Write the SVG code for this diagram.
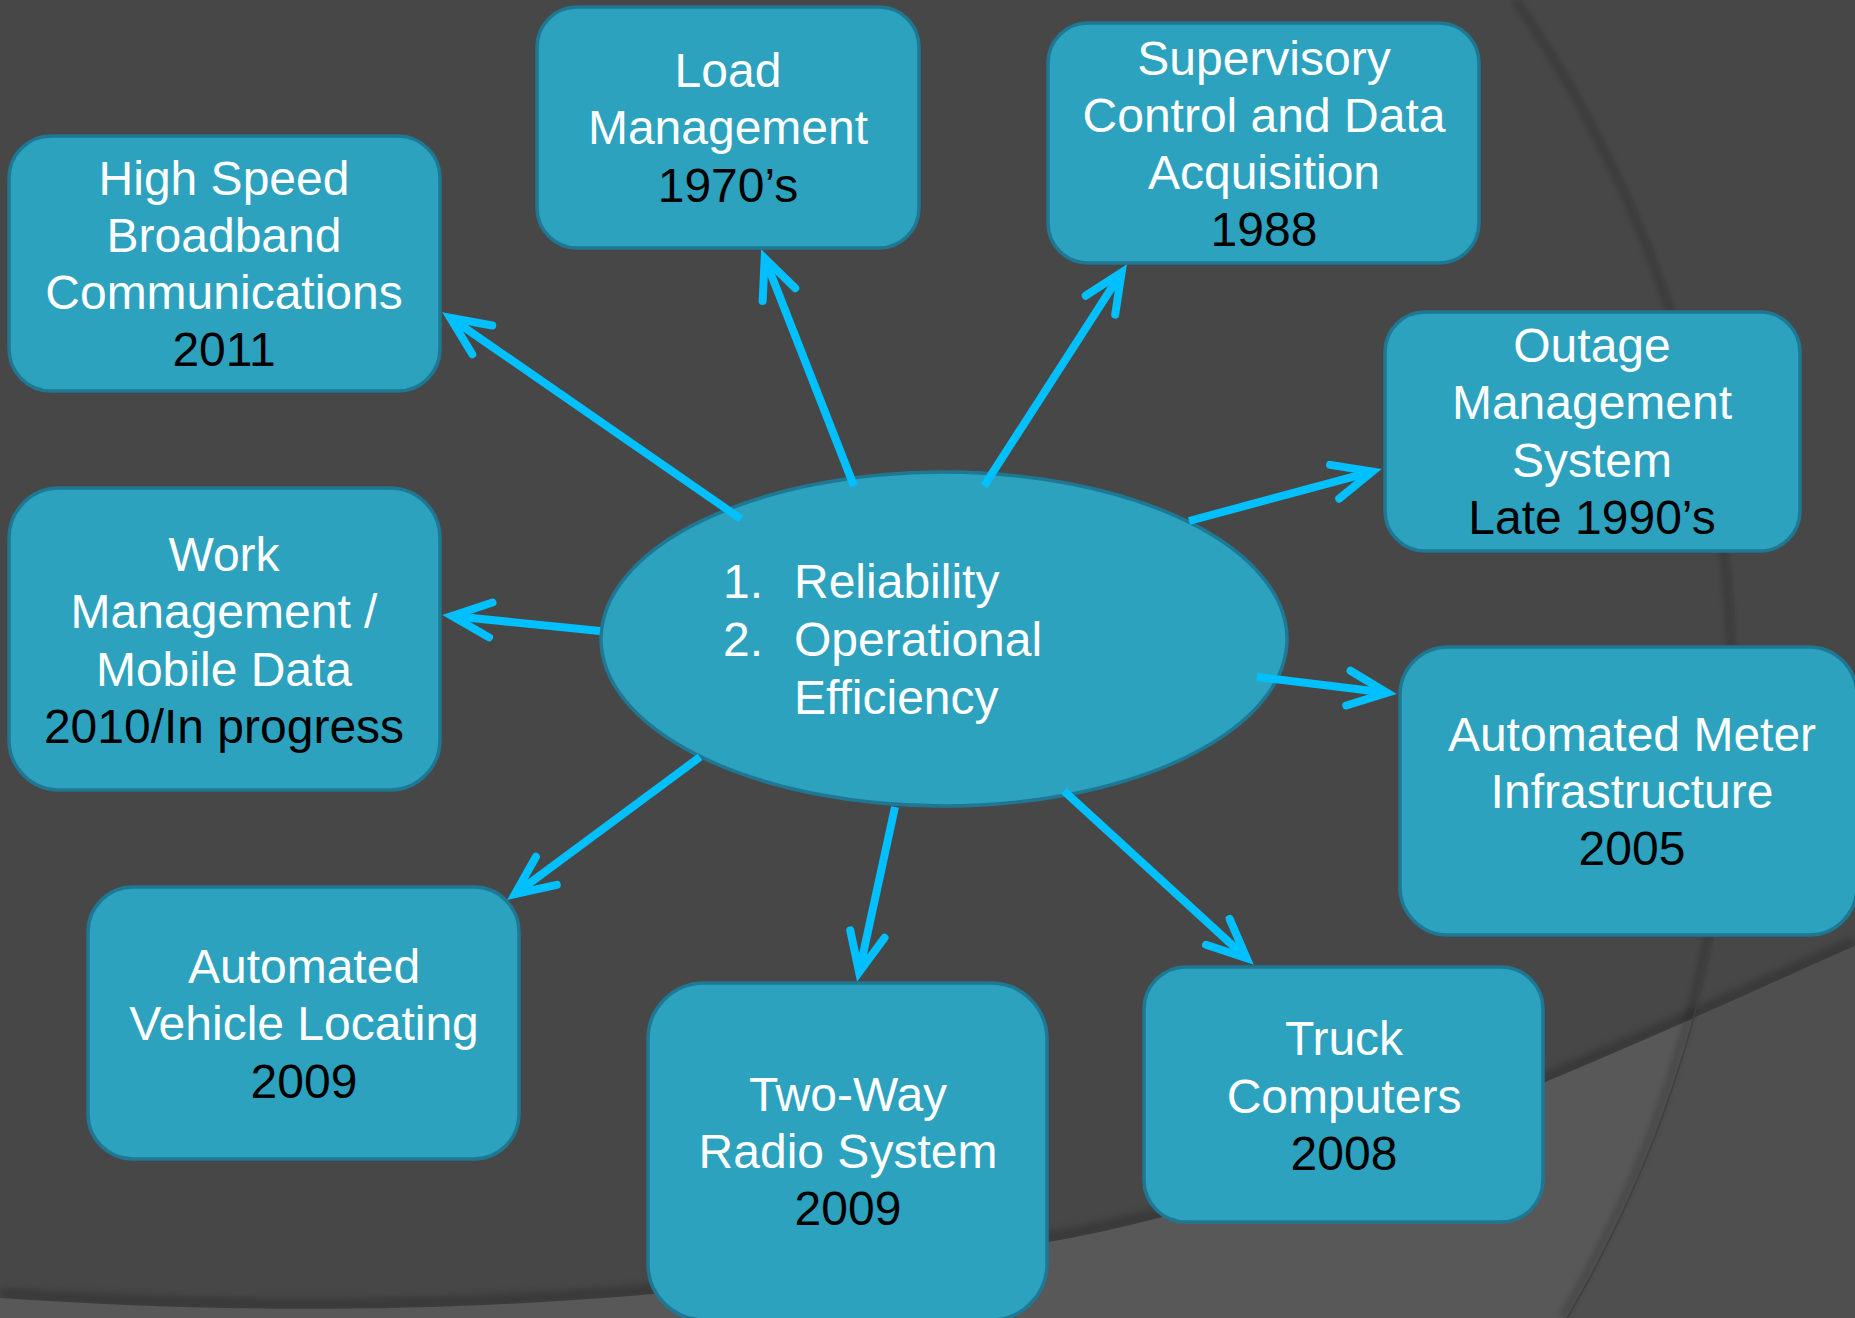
<svg xmlns="http://www.w3.org/2000/svg" width="1855" height="1318" viewBox="0 0 1855 1318">
  <defs>
    <style>
      .node { fill: #2ca2bf; stroke: #1f7893; stroke-width: 3.5; }
      .t { font-family: "Liberation Sans", Arial, sans-serif; font-size: 48px; text-anchor: middle; }
      .w { fill: #ffffff; }
      .k { fill: #000000; }
      .el { font-family: "Liberation Sans", Arial, sans-serif; font-size: 48px; fill: #ffffff; }
      .conn { stroke: #00c0ff; stroke-width: 8; fill: none; marker-end: url(#arrow); }
    </style>
    <marker id="arrow" markerUnits="userSpaceOnUse" viewBox="-50 -25 60 50" refX="0" refY="0" markerWidth="60" markerHeight="50" orient="auto" overflow="visible">
      <path d="M-39,-17.5 L0,0 L-39,17.5" fill="none" stroke="#00c0ff" stroke-width="8" stroke-linecap="round" stroke-linejoin="miter" stroke-miterlimit="10"/>
    </marker>
    <filter id="blur" filterUnits="userSpaceOnUse" x="0" y="0" width="1855" height="1318">
      <feGaussianBlur stdDeviation="5"/>
    </filter>
    <filter id="blur2" filterUnits="userSpaceOnUse" x="0" y="0" width="1855" height="1318">
      <feGaussianBlur stdDeviation="3"/>
    </filter>
    <clipPath id="lightClip">
      <path d="M0,1298 C300,1318 620,1316 1043,1243 C1300,1199 1600,1060 1855,946 L1855,1318 L0,1318 Z"/>
    </clipPath>
  </defs>

  <g id="background">
    <rect x="0" y="0" width="1855" height="1318" fill="#474747"/>
    <path d="M0,1298 C300,1318 620,1316 1043,1243 C1300,1199 1600,1060 1855,946" fill="none" stroke="#000" stroke-opacity="0.25" stroke-width="10" filter="url(#blur)" transform="translate(0,-4)"/>
    <path d="M0,1298 C300,1318 620,1316 1043,1243 C1300,1199 1600,1060 1855,946 L1855,1318 L0,1318 Z" fill="#585858"/>
    <path clip-path="url(#lightClip)" fill-rule="evenodd" fill="#4f4f4f" d="M0,0 H1855 V1318 H0 Z M512,696 m-1225,0 a1225,1225 0 1 0 2450,0 a1225,1225 0 1 0 -2450,0 Z"/>
    <path d="M1520,0 A1225,1225 0 0 1 1567,1318" fill="none" stroke="#000" stroke-opacity="0.18" stroke-width="8" filter="url(#blur2)" transform="translate(-5,0)"/>
    <path d="M1520,0 A1225,1225 0 0 1 1567,1318" fill="none" stroke="#404040" stroke-width="1.5"/>
  </g>

  <g id="center">
    <ellipse class="node" cx="944" cy="639" rx="343" ry="167"/>
    <text class="el" x="723" y="598">1.</text>
    <text class="el" x="794" y="598">Reliability</text>
    <text class="el" x="723" y="656">2.</text>
    <text class="el" x="794" y="656">Operational</text>
    <text class="el" x="794" y="714">Efficiency</text>
  </g>

  <g id="high-speed">
    <rect class="node" x="9" y="136" width="431" height="255" rx="42"/>
    <text class="t w" x="224" y="195">High Speed</text>
    <text class="t w" x="224" y="252">Broadband</text>
    <text class="t w" x="224" y="309">Communications</text>
    <text class="t k" x="224" y="366">2011</text>
  </g>

  <g id="load-management">
    <rect class="node" x="537" y="7" width="382" height="241" rx="40"/>
    <text class="t w" x="728" y="87">Load</text>
    <text class="t w" x="728" y="144">Management</text>
    <text class="t k" x="728" y="202">1970’s</text>
  </g>

  <g id="scada">
    <rect class="node" x="1048" y="23" width="431" height="240" rx="40"/>
    <text class="t w" x="1264" y="75">Supervisory</text>
    <text class="t w" x="1264" y="132">Control and Data</text>
    <text class="t w" x="1264" y="189">Acquisition</text>
    <text class="t k" x="1264" y="246">1988</text>
  </g>

  <g id="outage">
    <rect class="node" x="1385" y="312" width="415" height="239" rx="40"/>
    <text class="t w" x="1592" y="362">Outage</text>
    <text class="t w" x="1592" y="419">Management</text>
    <text class="t w" x="1592" y="477">System</text>
    <text class="t k" x="1592" y="534">Late 1990’s</text>
  </g>

  <g id="work-management">
    <rect class="node" x="9" y="488" width="431" height="302" rx="50"/>
    <text class="t w" x="224" y="571">Work</text>
    <text class="t w" x="224" y="628">Management /</text>
    <text class="t w" x="224" y="686">Mobile Data</text>
    <text class="t k" x="224" y="743">2010/In progress</text>
  </g>

  <g id="ami">
    <rect class="node" x="1400" y="647" width="457" height="288" rx="48"/>
    <text class="t w" x="1632" y="751">Automated Meter</text>
    <text class="t w" x="1632" y="808">Infrastructure</text>
    <text class="t k" x="1632" y="865">2005</text>
  </g>

  <g id="avl">
    <rect class="node" x="88" y="887" width="431" height="272" rx="45"/>
    <text class="t w" x="304" y="983">Automated</text>
    <text class="t w" x="304" y="1040">Vehicle Locating</text>
    <text class="t k" x="304" y="1098">2009</text>
  </g>

  <g id="two-way-radio">
    <rect class="node" x="648" y="983" width="399" height="337" rx="56"/>
    <text class="t w" x="848" y="1111">Two-Way</text>
    <text class="t w" x="848" y="1168">Radio System</text>
    <text class="t k" x="848" y="1225">2009</text>
  </g>

  <g id="truck-computers">
    <rect class="node" x="1144" y="967" width="399" height="255" rx="42"/>
    <text class="t w" x="1344" y="1055">Truck</text>
    <text class="t w" x="1344" y="1113">Computers</text>
    <text class="t k" x="1344" y="1170">2008</text>
  </g>

  <g id="connectors">
    <line class="conn" x1="741" y1="519" x2="450.2" y2="317.7"/>
    <line class="conn" x1="854" y1="486" x2="764.7" y2="258.3"/>
    <line class="conn" x1="984" y1="486" x2="1121.6" y2="272.4"/>
    <line class="conn" x1="1189" y1="521" x2="1372.3" y2="471.6"/>
    <line class="conn" x1="600" y1="631" x2="452" y2="616"/>
    <line class="conn" x1="1257" y1="677" x2="1387.1" y2="692.8"/>
    <line class="conn" x1="700" y1="757" x2="515" y2="894"/>
    <line class="conn" x1="895" y1="807" x2="859.1" y2="972.2"/>
    <line class="conn" x1="1064" y1="791" x2="1246.6" y2="958.2"/>
  </g>
</svg>
